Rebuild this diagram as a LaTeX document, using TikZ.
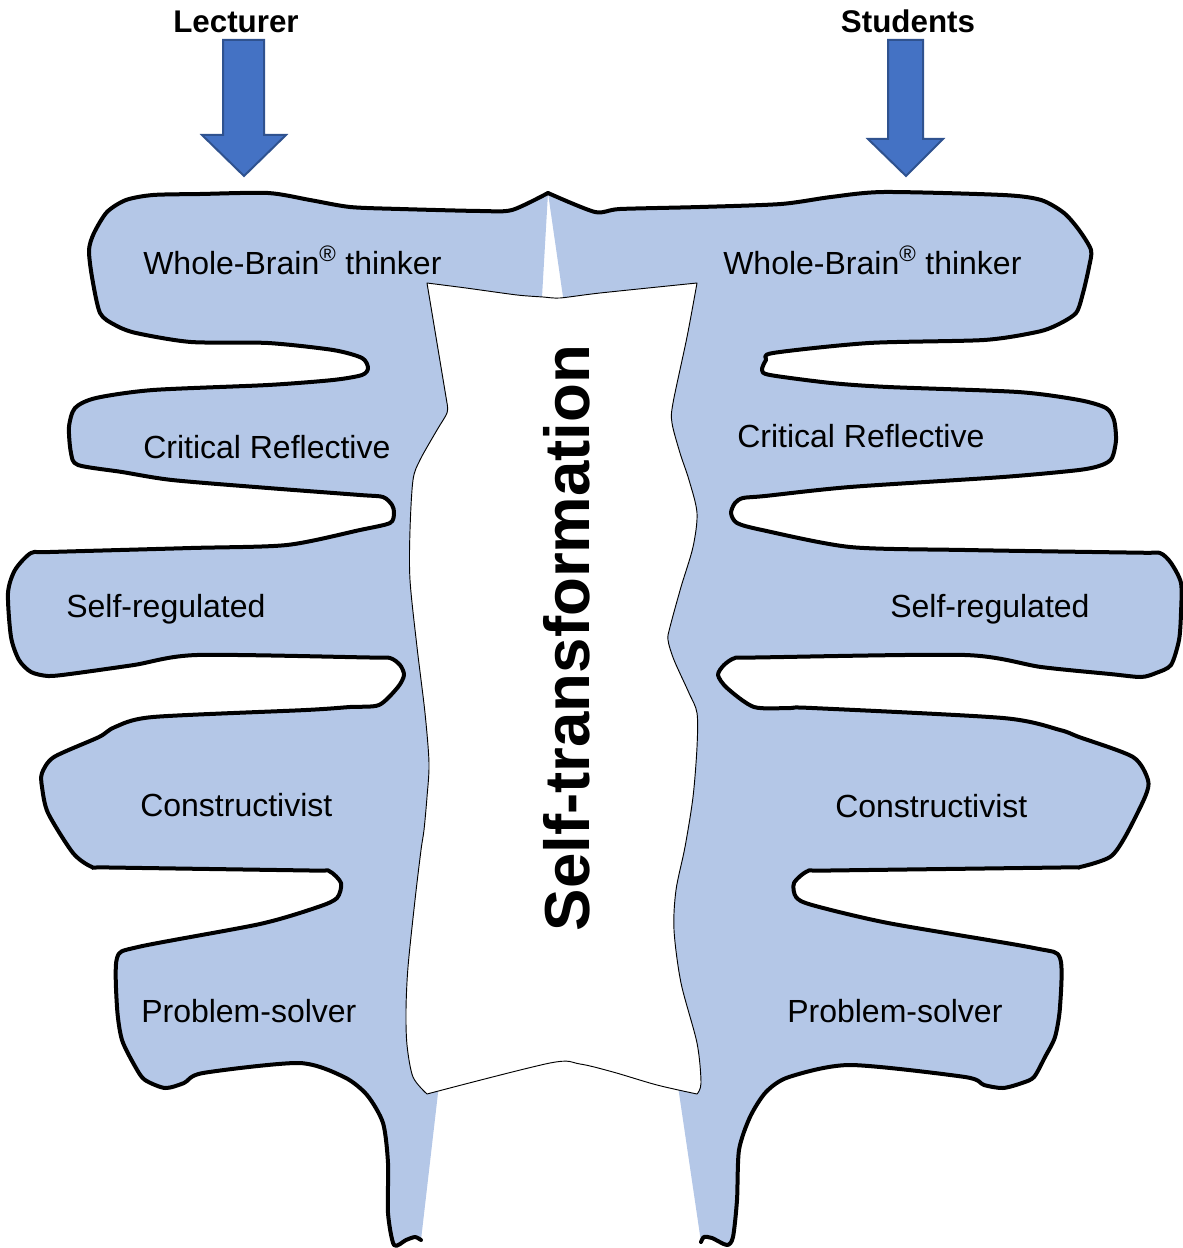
\documentclass[tikz,border=0pt]{standalone}
\usepackage{fontspec}
\setmainfont{Liberation Sans}
\definecolor{handblue}{HTML}{B4C7E7}
\definecolor{arrowblue}{HTML}{4472C4}
\definecolor{arrowedge}{HTML}{2F528F}
\newcommand{\handshape}[2]{%
    \fill[handfill] plot[smooth, tension=.45] coordinates {#1} -- #2 -- cycle;
    \draw[handline] plot[smooth, tension=.45] coordinates {#1};}

\begin{document}
\begin{tikzpicture}[x=0.75pt, y=-0.75pt,
        handfill/.style={fill=handblue},
        handline/.style={line width=3pt, line join=round, line cap=round},
        scrollbox/.style={fill=white, draw=black, line width=0.7pt, line join=round},
        blockarrow/.style={fill=arrowblue, draw=arrowedge, line width=1.5pt},
        heading/.style={inner sep=0pt, anchor=base, font=\fontsize{23.5}{28}\selectfont\bfseries},
        trait/.style={inner sep=0pt, anchor=base west, font=\fontsize{24}{29}\selectfont}]
        \useasboundingbox 
            (0,0) rectangle (1182,1248);
        \handshape
            {(548,193) (512,210) (480,211) (400,209) (350,207) (310,200) (268,193) (200,194) (153,195) (126,200) (107,212) (94,233) (89,250) (92,277) (100,313) (115,325) (136,333) (191,342) (268,343) (333,350) (362,358) (368,368) (362,375) (333,380) (268,385) (153,390) (96,398) (75,408) (69,427) (71,453) (78,465) (122,472) (172,480) (268,488) (360,495) (383,497) (392,505) (394,513) (390,523) (360,530) (287,545) (191,548) (50,552) (31,553) (15,570) (8,593) (11,637) (19,660) (31,672) (48,676) (70,674) (134,665) (197,655) (370,657.5) (390,658) (400,665) (404,675) (398,687) (379,705) (350,707) (306,710) (153,717) (115,727) (99,737) (54,757) (42,773) (42,787) (48,813) (73,853) (92,867) (110,867.5) (310,870.5) (329,871) (341,883) (337,898) (318,907) (260,924) (138,947) (117,958) (117,1007) (122,1040) (136,1068) (145,1080) (165,1088) (184,1083) (203,1073) (299,1063) (344,1077) (367,1095) (383,1123) (388,1163) (388,1213) (394,1245) (406,1240) (415,1237) (421,1240)}
            {(438,1093) -- (542,297)}
        \handshape
            {(548,193) (595,212) (620,209) (700,207) (781,204) (831,197) (884,192) (1003,195) (1041,200) (1064,213) (1079,230) (1091,250) (1089,267) (1083,293) (1076,313) (1057,325) (1037,332) (984,340) (869,343) (773,353) (766,360) (762,370) (770,375) (831,383) (888,387) (1018,392) (1079,400) (1106,408) (1114,420) (1116,440) (1112,458) (1102,465) (1079,470) (1003,477) (850,487) (765,496) (743,498) (735,503) (731,513) (737,523) (762,530) (850,547) (965,550) (1140,552.7) (1160,553) (1171,563) (1181,583) (1181,613) (1179,640) (1171,665) (1156,673) (1141,677) (1110,674) (1041,667) (965,655) (755,657.5) (735,658) (724,665) (718,675) (727,688) (754,707) (790,708) (812,708) (1003,718) (1060,730) (1079,737) (1133,757) (1148,780) (1145,797) (1125,837) (1110,857) (1080,867) (1060,867.5) (830,870.5) (808,871) (794,883) (796,897) (812,905) (888,923) (1034,948) (1060,958) (1060,1007) (1055,1037) (1045,1057) (1034,1077) (1022,1083) (1003,1088) (984,1085) (965,1077) (850,1065) (789,1077) (766,1092) (750,1117) (739,1150) (737,1200) (733,1237) (727,1245) (712,1238) (704,1237) (701,1242)}
            {(679,1093) -- (563,297)}
        \draw[scrollbox]
            plot[smooth, tension=.4] coordinates {(427,283) (466,288) (517,295) (543,297) (560,298) (600,293) (697,283)}
            -- plot[smooth, tension=.5] coordinates {(697,283) (687,337) (673,403) (672,423) (680,453) (689,480) (697,513) (693,547) (681,587) (670,627) (668,640) (674,660) (689,693) (697,713) (697,747) (693,797) (685,847) (676,890) (674,930) (681,983) (697,1043) (701,1083) (697,1094)}
            -- plot[smooth, tension=.5] coordinates {(697,1094) (657,1085) (613,1072) (580,1064) (550,1063) (427,1094)}
            -- plot[smooth, tension=.5] coordinates {(427,1094) (413,1077) (407,1045) (406,1010) (408,967) (415,900) (421,850) (424,830) (427,797) (429,763) (425,713) (417,647) (410,580) (410,530) (413,480) (420,460) (437,430) (447,413) (447,403)}
            -- cycle;
        \draw[blockarrow]
            (223,40) -- (264,40) -- (264,135) -- (286,135) -- (244,176) -- (202,135) -- (223,135) -- cycle;
        \draw[blockarrow]
            (888,40) -- (923,40) -- (923,139) -- (943,139) -- (906,176) -- (868,139) -- (888,139) -- cycle;
        \node[heading] (lecturer) at (236,33) {Lecturer};
        \node[heading] (students) at (908,33) {Students};
        \node[trait] (wholeL) at (143,274) {Whole-Brain\textsuperscript{®} thinker};
        \node[trait] (wholeR) at (723,274) {Whole-Brain\textsuperscript{®} thinker};
        \node[trait] (criticalL) at (143,458) {Critical Reflective};
        \node[trait] (criticalR) at (737,447) {Critical Reflective};
        \node[trait] (selfregL) at (66,617) {Self-regulated};
        \node[trait] (selfregR) at (890,617) {Self-regulated};
        \node[trait] (constructL) at (140,816) {Constructivist};
        \node[trait] (constructR) at (835,817) {Constructivist};
        \node[trait] (problemL) at (141,1022) {Problem-solver};
        \node[trait] (problemR) at (787,1022) {Problem-solver};
        \node[rotate=90, inner sep=0pt, anchor=base, font=\fontsize{47.7}{57}\selectfont\bfseries] (selftrans) at (589,638) {Self-transformation};
    \end{tikzpicture}
\end{document}
